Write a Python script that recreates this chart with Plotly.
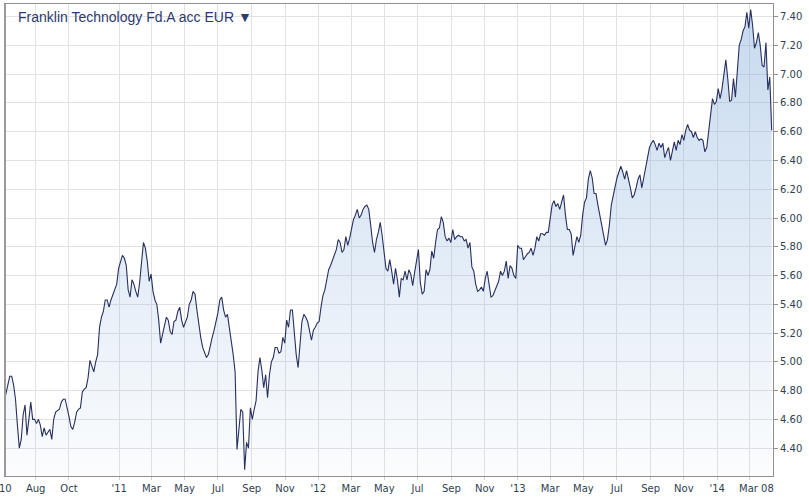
import pandas as pd
import plotly.graph_objects as go

# Half-weekly closing prices (EUR)
last_date = "2014-04-11"
prices = [
    4.72, 4.79, 4.84, 4.90, 4.90, 4.84, 4.74, 4.56, 4.40, 4.46,
    4.63, 4.70, 4.49, 4.60, 4.72, 4.60, 4.60, 4.57, 4.60, 4.56,
    4.48, 4.54, 4.49, 4.51, 4.53, 4.46, 4.60, 4.65, 4.66, 4.67,
    4.72, 4.74, 4.74, 4.69, 4.62, 4.55, 4.53, 4.58, 4.65, 4.67,
    4.68, 4.79, 4.81, 4.82, 4.89, 5.01, 4.97, 4.93, 5.00, 5.05,
    5.24, 5.31, 5.35, 5.43, 5.43, 5.38, 5.43, 5.47, 5.50, 5.54,
    5.65, 5.70, 5.74, 5.72, 5.67, 5.50, 5.45, 5.57, 5.54, 5.49,
    5.45, 5.55, 5.71, 5.83, 5.79, 5.70, 5.56, 5.61, 5.49, 5.43,
    5.40, 5.29, 5.13, 5.19, 5.26, 5.31, 5.29, 5.21, 5.19, 5.28,
    5.29, 5.35, 5.38, 5.29, 5.24, 5.28, 5.31, 5.40, 5.43, 5.49,
    5.47, 5.36, 5.26, 5.17, 5.10, 5.07, 5.03, 5.05, 5.12, 5.17,
    5.22, 5.28, 5.34, 5.43, 5.45, 5.36, 5.31, 5.33, 5.24, 5.13,
    5.05, 4.93, 4.39, 4.53, 4.67, 4.65, 4.25, 4.44, 4.40, 4.68,
    4.60, 4.67, 4.73, 4.93, 5.03, 4.94, 4.82, 4.91, 4.75, 4.91,
    5.00, 5.03, 5.10, 5.10, 5.06, 5.07, 5.17, 5.13, 5.29, 5.24,
    5.36, 5.36, 5.20, 5.05, 4.96, 5.12, 5.28, 5.33, 5.31, 5.28,
    5.20, 5.15, 5.22, 5.24, 5.27, 5.28, 5.38, 5.46, 5.50, 5.57,
    5.64, 5.67, 5.71, 5.74, 5.78, 5.85, 5.83, 5.76, 5.78, 5.87,
    5.81, 5.86, 5.93, 5.99, 6.02, 6.06, 6.00, 6.02, 6.06, 6.08,
    6.09, 6.06, 5.95, 5.83, 5.76, 5.85, 5.90, 5.97, 5.88, 5.78,
    5.65, 5.63, 5.71, 5.63, 5.54, 5.65, 5.57, 5.45, 5.58, 5.57,
    5.63, 5.57, 5.64, 5.61, 5.53, 5.62, 5.70, 5.78, 5.55, 5.47,
    5.49, 5.64, 5.60, 5.64, 5.77, 5.72, 5.83, 5.92, 5.93, 6.01,
    5.97, 5.87, 5.84, 5.86, 5.83, 5.92, 5.85, 5.87, 5.88, 5.87,
    5.87, 5.84, 5.85, 5.79, 5.83, 5.66, 5.63, 5.54, 5.49, 5.50,
    5.52, 5.49, 5.58, 5.63, 5.54, 5.45, 5.46, 5.49, 5.52, 5.56,
    5.63, 5.60, 5.63, 5.70, 5.58, 5.67, 5.65, 5.60, 5.58, 5.81,
    5.79, 5.79, 5.71, 5.73, 5.75, 5.76, 5.79, 5.74, 5.79, 5.87,
    5.84, 5.89, 5.89, 5.88, 5.90, 5.90, 6.01, 6.09, 6.12, 6.08,
    6.10, 6.06, 6.11, 6.16, 6.02, 5.92, 5.92, 5.89, 5.74, 5.80,
    5.87, 5.83, 5.88, 6.02, 6.11, 6.14, 6.27, 6.33, 6.28, 6.17,
    6.17, 6.09, 6.02, 5.97, 5.90, 5.81, 5.85, 5.95, 6.09, 6.16,
    6.21, 6.28, 6.32, 6.36, 6.32, 6.27, 6.33, 6.28, 6.21, 6.14,
    6.16, 6.21, 6.27, 6.30, 6.21, 6.28, 6.35, 6.44, 6.49, 6.52,
    6.54, 6.51, 6.47, 6.52, 6.49, 6.52, 6.42, 6.46, 6.49, 6.40,
    6.47, 6.53, 6.47, 6.54, 6.51, 6.58, 6.54, 6.61, 6.65, 6.61,
    6.60, 6.56, 6.60, 6.56, 6.54, 6.55, 6.54, 6.46, 6.49, 6.61,
    6.73, 6.83, 6.79, 6.81, 6.90, 6.83, 6.90, 7.02, 7.10, 6.97,
    6.81, 6.82, 6.97, 6.84, 7.04, 7.20, 7.24, 7.30, 7.33, 7.43,
    7.32, 7.45, 7.34, 7.18, 7.22, 7.29, 7.20, 7.06, 7.05, 7.22,
    6.89, 6.98, 6.61,
]
dates = pd.date_range(end=last_date, periods=len(prices), freq="84h")

tick_dates = ["2010-08-01", "2010-10-01", "2011-01-01", "2011-03-01", "2011-05-01",
              "2011-07-01", "2011-09-01", "2011-11-01", "2012-01-01", "2012-03-01",
              "2012-05-01", "2012-07-01", "2012-09-01", "2012-11-01", "2013-01-01",
              "2013-03-01", "2013-05-01", "2013-07-01", "2013-09-01", "2013-11-01",
              "2014-01-01", "2014-03-01"]
tick_text = ["Aug", "Oct", "'11", "Mar", "May", "Jul", "Sep", "Nov", "'12", "Mar",
             "May", "Jul", "Sep", "Nov", "'13", "Mar", "May", "Jul", "Sep", "Nov",
             "'14", ""]
y_ticks = [4.40, 4.60, 4.80, 5.00, 5.20, 5.40, 5.60, 5.80, 6.00, 6.20, 6.40,
           6.60, 6.80, 7.00, 7.20, 7.40]
title_text = "Franklin Technology Fd.A acc EUR \u25BC"
edge_labels = ["10", "Mar 08"]

x_range = ["2010-06-05 18:00", "2014-04-13 10:00"]
y_range = [4.206, 7.488]

label_font = dict(family="DejaVu Sans, Verdana, sans-serif", size=10, color="#2f3f4f")

fig = go.Figure()
fig.add_trace(go.Scatter(
    x=dates, y=prices, mode="lines",
    line=dict(color="#27305f", width=1.1),
    fill="tozeroy",
    fillgradient=dict(
        type="vertical", start=y_range[0], stop=y_range[1],
        colorscale=[[0, "rgba(120,165,215,0.03)"], [1, "rgba(120,165,215,0.42)"]],
    ),
    hoverinfo="x+y", showlegend=False,
))

fig.update_layout(
    width=809, height=499,
    margin=dict(l=5, r=36, t=4, b=23),
    paper_bgcolor="white", plot_bgcolor="white",
    xaxis=dict(
        type="date", range=x_range,
        tickvals=tick_dates, ticktext=tick_text,
        tickfont=label_font, tickangle=0,
        showgrid=True, gridcolor="#e2e2e2", gridwidth=1,
        ticks="outside", ticklen=3, tickcolor="#cfcfcf",
        showline=True, linecolor="#8f8f8f", linewidth=1, mirror=True,
        zeroline=False, fixedrange=True,
    ),
    yaxis=dict(
        range=y_range, side="right",
        tickvals=y_ticks, tickformat=".2f",
        tickfont=label_font,
        showgrid=True, gridcolor="#e2e2e2", gridwidth=1,
        ticks="outside", ticklen=4, tickcolor="#8f8f8f",
        showline=True, linecolor="#8f8f8f", linewidth=1, mirror=True,
        zeroline=False, fixedrange=True,
    ),
    shapes=[
        dict(type="line", xref="paper", yref="paper", x0=0, x1=0, y0=0, y1=1,
             line=dict(color="#9a9a9a", width=2)),
    ],
    annotations=[
        dict(text=title_text, xref="paper", yref="paper", x=0.0143, y=1.0,
             xanchor="left", yanchor="top", yshift=-3, showarrow=False,
             font=dict(family="Liberation Sans, Arial, sans-serif", size=14, color="#2d3a6e")),
        dict(text=edge_labels[0], xref="paper", yref="paper", x=0.0013, y=0,
             xanchor="center", yanchor="top", yshift=-5, showarrow=False, font=label_font),
        dict(text=edge_labels[1], xref="paper", yref="paper", x=0.979, y=0,
             xanchor="center", yanchor="top", yshift=-5, showarrow=False, font=label_font),
    ],
)

fig.write_html("out.html")
